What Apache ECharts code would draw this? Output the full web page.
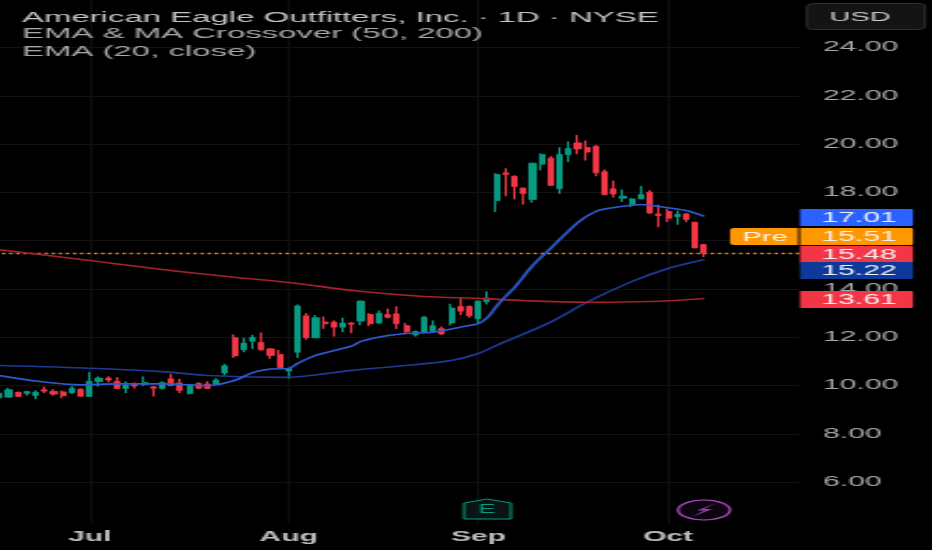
<!DOCTYPE html>
<html><head><meta charset="utf-8">
<style>html,body{margin:0;padding:0;background:#000;overflow:hidden}
#c{width:434px;height:550px;transform:scaleX(2.1475);transform-origin:0 0;filter:blur(0.35px)}</style>
<script src="https://cdn.jsdelivr.net/npm/echarts@6/dist/echarts.min.js"></script>
</head><body><div id="c"></div>
<script>
// [open, close, low, high]
const candles = [
[9.49,9.69,9.49,9.69],[9.52,9.83,9.52,9.91],[9.73,9.55,9.55,9.73],[9.67,9.76,9.58,9.76],[9.59,9.73,9.44,9.80],
[9.83,9.77,9.69,9.96],[9.76,9.65,9.58,9.85],[9.74,9.58,9.48,9.80],[9.70,9.89,9.66,9.98],[9.85,9.56,9.55,9.88],
[9.55,10.18,9.55,10.56],[10.17,10.31,9.96,10.38],[10.31,10.23,10.14,10.38],[10.18,9.88,9.87,10.35],[9.88,10.02,9.69,10.17],
[10.09,9.98,9.88,10.13],[10.05,10.13,9.98,10.38],[9.95,9.89,9.55,9.98],[9.88,10.13,9.84,10.17],[10.28,10.00,9.98,10.49],
[10.11,9.80,9.69,10.28],[9.67,10.05,9.63,10.07],[10.09,9.89,9.85,10.14],[10.07,9.88,9.87,10.18],[10.05,10.23,10.03,10.31],
[10.52,10.82,10.42,10.90],[11.98,11.23,11.15,12.12],[11.48,11.76,11.38,11.98],[11.84,12.00,11.52,12.10],[11.79,11.48,11.45,12.20],
[11.52,11.25,11.11,11.56],[11.29,10.74,10.74,11.48],[10.60,10.71,10.28,10.74],[11.38,13.30,11.15,13.36],[12.89,11.98,11.90,13.00],
[11.98,12.81,11.98,12.92],[12.63,12.56,12.35,12.86],[12.63,12.42,12.03,12.70],[12.42,12.59,12.21,12.81],[12.59,12.54,12.17,12.63],
[12.67,13.50,12.50,13.52],[12.94,12.56,12.47,13.00],[12.59,13.00,12.56,13.11],[12.94,12.83,12.78,13.19],[12.97,12.56,12.35,13.28],
[12.48,12.23,12.14,12.59],[12.10,12.24,12.03,12.28],[12.21,12.83,12.17,12.89],[12.24,12.48,12.21,12.70],[12.36,12.14,12.10,12.45],
[12.59,13.21,12.49,13.39],[13.28,13.08,12.92,13.63],[13.28,12.89,12.81,13.32],[12.77,13.50,12.59,13.52],[13.47,13.63,13.36,13.90],
[17.66,18.74,17.18,18.80],[18.81,18.74,17.84,19.00],[18.67,18.24,17.71,18.70],[18.18,17.95,17.49,18.20],[17.71,19.21,17.57,19.22],
[19.17,19.57,18.91,19.62],[19.42,18.29,18.29,19.50],[18.15,19.57,17.94,19.87],[19.56,19.82,19.25,20.11],[20.05,19.80,19.58,20.38],
[19.86,19.67,19.32,20.15],[19.91,18.81,18.67,19.97],[18.86,17.90,17.90,18.95],[18.15,17.93,17.79,18.49],[17.76,17.84,17.60,18.12],
[17.48,17.73,17.39,17.76],[17.73,17.91,17.73,18.27],[18.01,17.15,17.11,18.09],[17.11,17.04,16.56,17.49],[17.21,16.93,16.77,17.32],
[16.99,17.10,16.66,17.25],[17.11,16.88,16.77,17.15],[16.77,15.70,15.70,16.77],[15.84,15.48,15.32,15.87]
];
const ema20Idx = [0,4,9,13,18,23,26,28,30,32,33,35,39,40,43,45,48,51,53,54,55,56,57,59,61,64,66,68,71,73,76,78];
const ema20Val = [10.42,10.19,10.03,10.07,10.07,10.00,10.21,10.54,10.69,10.71,10.92,11.25,11.64,11.83,12.07,12.16,12.21,12.42,12.57,12.82,13.28,13.69,14.06,14.97,15.68,16.75,17.21,17.37,17.50,17.42,17.25,17.01];
const ema50Idx = [0,10,18,23,32,35,39,45,50,53,55,61,65,70,74,78];
const ema50Val = [10.83,10.72,10.58,10.42,10.34,10.44,10.63,10.83,11.04,11.33,11.66,12.63,13.45,14.31,14.85,15.22];
const ma200Idx = [0,10,18,26,33,39,47,53,58,65,72,78];
const ma200Val = [15.62,15.18,14.81,14.49,14.23,13.94,13.69,13.61,13.52,13.45,13.48,13.61];
const monthIdx = [10,32,53,74];
const monthLabels = ['Jul','Aug','Sep','Oct'];
const titleLines = ['American Eagle Outfitters, Inc. · 1D · NYSE','EMA & MA Crossover (50, 200)','EMA (20, close)'];
const tagLabels = ['17.01','15.51','15.48','15.22','13.61'];
const lastPrice = 15.48;

const S = 932/434, X = p => p/S;
const FONT = '"Liberation Sans", Arial, sans-serif';
const slots = 89;
const categories = Array.from({length:slots},(_,i)=>{const k=monthIdx.indexOf(i);return k>=0?monthLabels[k]:'';});
const zip = (a,b)=>a.map((v,i)=>[v,b[i]]);
const lineS = (name,idx,val,color,w)=>({name,type:'line',data:zip(idx,val),smooth:0.25,showSymbol:false,symbol:'none',z:4,silent:true,lineStyle:{color,width:w}});

const tagBoxes = [[209,'#2962ff'],[228,'#ff9800'],[246,'#f23645'],[262,'#0d3a9a'],[291,'#f23645']];
const graphics = [];
tagLabels.forEach((t,i)=>{
  graphics.push({type:'rect',z:100,shape:{x:X(800),y:tagBoxes[i][0],width:X(113),height:17,r:[0,1,1,0]},style:{fill:tagBoxes[i][1]}});
  graphics.push({type:'text',z:101,x:X(859),y:tagBoxes[i][0]+9,style:{text:t,fill:'#f2f2f2',font:'14px '+FONT,textAlign:'center',textVerticalAlign:'middle'}});
});
graphics.push({type:'rect',z:100,shape:{x:X(730),y:228,width:X(68),height:17,r:[2,0,0,2]},style:{fill:'#ff9800'}});
graphics.push({type:'text',z:101,x:X(765),y:237,style:{text:'Pre',fill:'#f5f5f5',font:'13.5px '+FONT,textAlign:'center',textVerticalAlign:'middle'}});
graphics.push({type:'rect',z:100,shape:{x:X(807),y:3.5,width:X(118),height:26,r:3},style:{fill:'#141414',stroke:'#2f2f2f',lineWidth:1}});
graphics.push({type:'text',z:101,x:X(860),y:17,style:{text:'USD',fill:'#c8c8c8',font:'13.5px '+FONT,textAlign:'center',textVerticalAlign:'middle'}});
const titleY=[18,34,52], titleFill=['#c4c4c4','#a8a8a8','#a8a8a8'];
titleLines.forEach((t,i)=>graphics.push({type:'text',z:50,x:X(22),y:titleY[i],scaleX:1.095,style:{text:t,fill:titleFill[i],font:'14px '+FONT,textVerticalAlign:'middle'}}));
// earnings flag
graphics.push({type:'polygon',z:50,shape:{points:[[X(464),503],[X(487),499],[X(511),503],[X(511),519],[X(464),519]]},style:{fill:'#0a1513',stroke:'#089981',lineWidth:1}});
graphics.push({type:'text',z:51,x:X(487),y:510,style:{text:'E',fill:'#089981',font:'12px '+FONT,textAlign:'center',textVerticalAlign:'middle'}});
// dividend/power marker
graphics.push({type:'ellipse',z:50,shape:{cx:X(704),cy:510,rx:X(26),ry:10},style:{fill:'#0c0510',stroke:'#b04fc2',lineWidth:1.2}});
graphics.push({type:'polygon',z:51,shape:{points:[[X(716),503],[X(697),510.5],[X(704),510.5],[X(692),517],[X(712),509],[X(704),509]]},style:{fill:'#9a3fb0'}});

const chart = echarts.init(document.getElementById('c'),null,{width:434,height:550,renderer:'canvas'});
chart.setOption({
  animation:false,
  backgroundColor:'#000',
  grid:{left:X(-5),width:X(804),top:-0.8,height:531.3,containLabel:false,outerBoundsMode:'none'},
  xAxis:{type:'category',data:categories,axisLine:{show:false},axisTick:{show:false},splitLine:{show:false},
    axisLabel:{interval:0,margin:0,color:'#bdbdbd',fontFamily:FONT,fontWeight:'bold',fontSize:14,hideOverlap:false,showMinLabel:true,showMaxLabel:true}},
  yAxis:{type:'value',position:'right',min:4,max:26,interval:2,scale:false,axisLine:{show:false},axisTick:{show:false},
    splitLine:{show:true,showMinLine:false,showMaxLine:false,lineStyle:{color:'#121212',width:1}},
    axisLabel:{margin:X(24),padding:[2,0,0,0],color:'#a6a6a6',fontFamily:FONT,fontSize:14,showMinLabel:false,showMaxLabel:false,
      formatter:v=>(v<=4||v>=26)?'':v.toFixed(2)}},
  series:[
    {type:'candlestick',name:'AEO',data:candles,barWidth:X(5.6),z:3,silent:true,
     itemStyle:{color:'#089981',color0:'#f23645',borderColor:'#089981',borderColor0:'#f23645',borderWidth:1},
     markLine:{silent:true,symbol:'none',precision:2,label:{show:false},animation:false,z:2,
       lineStyle:{color:'#ff9a2e',type:[1.5,1.8],width:1.3,opacity:1},
       data:[{yAxis:lastPrice}]}},
    {type:'line',name:'months',data:[],silent:true,showSymbol:false,z:1,
     markLine:{silent:true,symbol:'none',label:{show:false},animation:false,z:1,
       lineStyle:{color:'#0f0f0f',type:'solid',width:1},
       data:monthIdx.map(i=>[{xAxis:i,yAxis:4.3},{xAxis:i,yAxis:26}])}},
    lineS('EMA 50',ema50Idx,ema50Val,'#1e3a94',1.6),
    lineS('MA 200',ma200Idx,ma200Val,'#a3222f',1.6),
    lineS('EMA 20',ema20Idx,ema20Val,'#2f5bd0',1.6)
  ],
  graphic:graphics
});
</script></body></html>
